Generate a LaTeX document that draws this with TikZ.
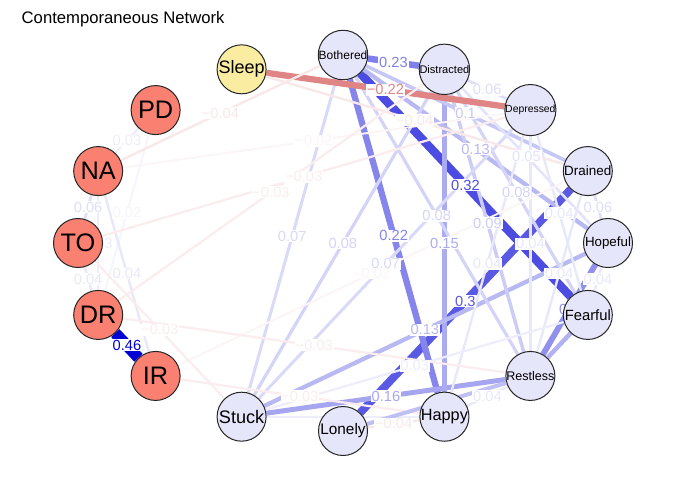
\documentclass[tikz,border=0pt]{standalone}
\usepackage{fontspec}
\setmainfont{Liberation Sans}
\definecolor{posblue}{HTML}{0000D5}
\definecolor{negred}{HTML}{BF0000}
\definecolor{comorbid}{HTML}{FA8072}
\definecolor{symptom}{HTML}{E6E6FA}
\definecolor{sleepy}{HTML}{FAEDA2}
\pgfdeclarelayer{edgelayer}
\pgfdeclarelayer{labellayer}
\pgfsetlayers{edgelayer,labellayer,main}
\tikzset{
  varnode/.style={circle, draw=black!85, line width=0.75pt, minimum size=36.75pt, inner sep=0pt},
  netedge/.style 2 args={line width={1.1pt+0.075pt*#2}, draw=#1!#2!white},
  edgelabel/.style={fill=white, inner sep=0.6pt, font=\fontsize{11}{11}\selectfont}
}
\begin{document}
\begin{tikzpicture}[x=0.75pt, y=-0.75pt]
\begin{pgfonlayer}{edgelayer}
\fill[white] (0,0) rectangle (682,487);
\end{pgfonlayer}
\useasboundingbox (0,0) rectangle (682,487);
\node[anchor=base west, font=\fontsize{12.5}{15}\selectfont] (title) at (17,23) {Contemporaneous Network};
% the variables, on an ellipse
\foreach \name/\ang/\fs/\col/\txt in {
    bothered/90/9/symptom/Bothered, distracted/67.5/8.3/symptom/Distracted,
    depressed/45/7.8/symptom/Depressed, drained/22.5/10.1/symptom/Drained,
    hopeful/0/10/symptom/Hopeful, fearful/-22.5/11.1/symptom/Fearful,
    restless/-45/9.4/symptom/Restless, happy/-67.5/12.2/symptom/Happy,
    lonely/-90/11.5/symptom/Lonely, stuck/-112.5/13.6/symptom/Stuck,
    ir/-135/19/comorbid/IR, dr/-157.5/19/comorbid/DR,
    to/180/19/comorbid/TO, na/157.5/19/comorbid/NA,
    pd/135/19/comorbid/PD, sleep/112.5/13.5/sleepy/Sleep}
  \node[varnode, fill=\col, font=\fontsize{\fs}{\fs}\selectfont] (\name)
    at ({343+265*cos(\ang)},{243-188*sin(\ang)}) {\txt};
% the partial correlations with their labels
\foreach \a/\b/\c/\p/\l in {
    dr/ir/posblue/100/0.46, bothered/fearful/posblue/70/0.32,
    drained/lonely/posblue/65/0.3, bothered/distracted/posblue/50/0.23,
    bothered/happy/posblue/48/0.22, hopeful/restless/posblue/43/0.2,
    stuck/restless/posblue/35/0.16, distracted/happy/posblue/33/0.15,
    stuck/hopeful/posblue/28/0.13, bothered/hopeful/posblue/28/0.13,
    bothered/drained/posblue/22/0.1, distracted/restless/posblue/20/0.09,
    distracted/fearful/posblue/17/0.08, bothered/restless/posblue/17/0.08,
    stuck/distracted/posblue/17/0.08, stuck/bothered/posblue/15/0.07,
    stuck/depressed/posblue/15/0.07, drained/hopeful/posblue/13/0.06,
    distracted/depressed/posblue/13/0.06, distracted/hopeful/posblue/11/0.05,
    happy/restless/posblue/9/0.04, depressed/restless/posblue/9/0.04,
    depressed/fearful/posblue/9/0.04, depressed/happy/posblue/9/0.04,
    drained/restless/posblue/9/0.04, hopeful/fearful/posblue/9/0.04,
    stuck/fearful/posblue/7/0.03, stuck/happy/posblue/7/0.03,
    pd/na/posblue/7/0.03, na/to/posblue/13/0.06,
    pd/dr/posblue/4/0.02, na/dr/posblue/7/0.03,
    na/ir/posblue/9/0.04, to/dr/posblue/9/0.04,
    sleep/depressed/negred/48/−0.22, sleep/drained/negred/9/−0.04,
    na/bothered/negred/9/−0.04, na/depressed/negred/4/−0.02,
    to/depressed/negred/7/−0.03, dr/distracted/negred/7/−0.03,
    ir/drained/negred/4/−0.02, dr/restless/negred/7/−0.03,
    to/stuck/negred/7/−0.03, ir/happy/negred/7/−0.03,
    lonely/happy/negred/9/−0.04} {
  \begin{pgfonlayer}{edgelayer}
    \draw[netedge={\c}{\p}] (\a) -- (\b);
  \end{pgfonlayer}
  \begin{pgfonlayer}{labellayer}
    \path (\a) -- node[edgelabel, text=\c!\p!white] {\l} (\b);
  \end{pgfonlayer}
}
% edges whose labels sit behind the circles
\begin{pgfonlayer}{edgelayer}
\foreach \a/\b/\p in {fearful/restless/30, lonely/restless/25}
  \draw[netedge={posblue}{\p}] (\a) -- (\b);
\end{pgfonlayer}
\end{tikzpicture}
\end{document}
